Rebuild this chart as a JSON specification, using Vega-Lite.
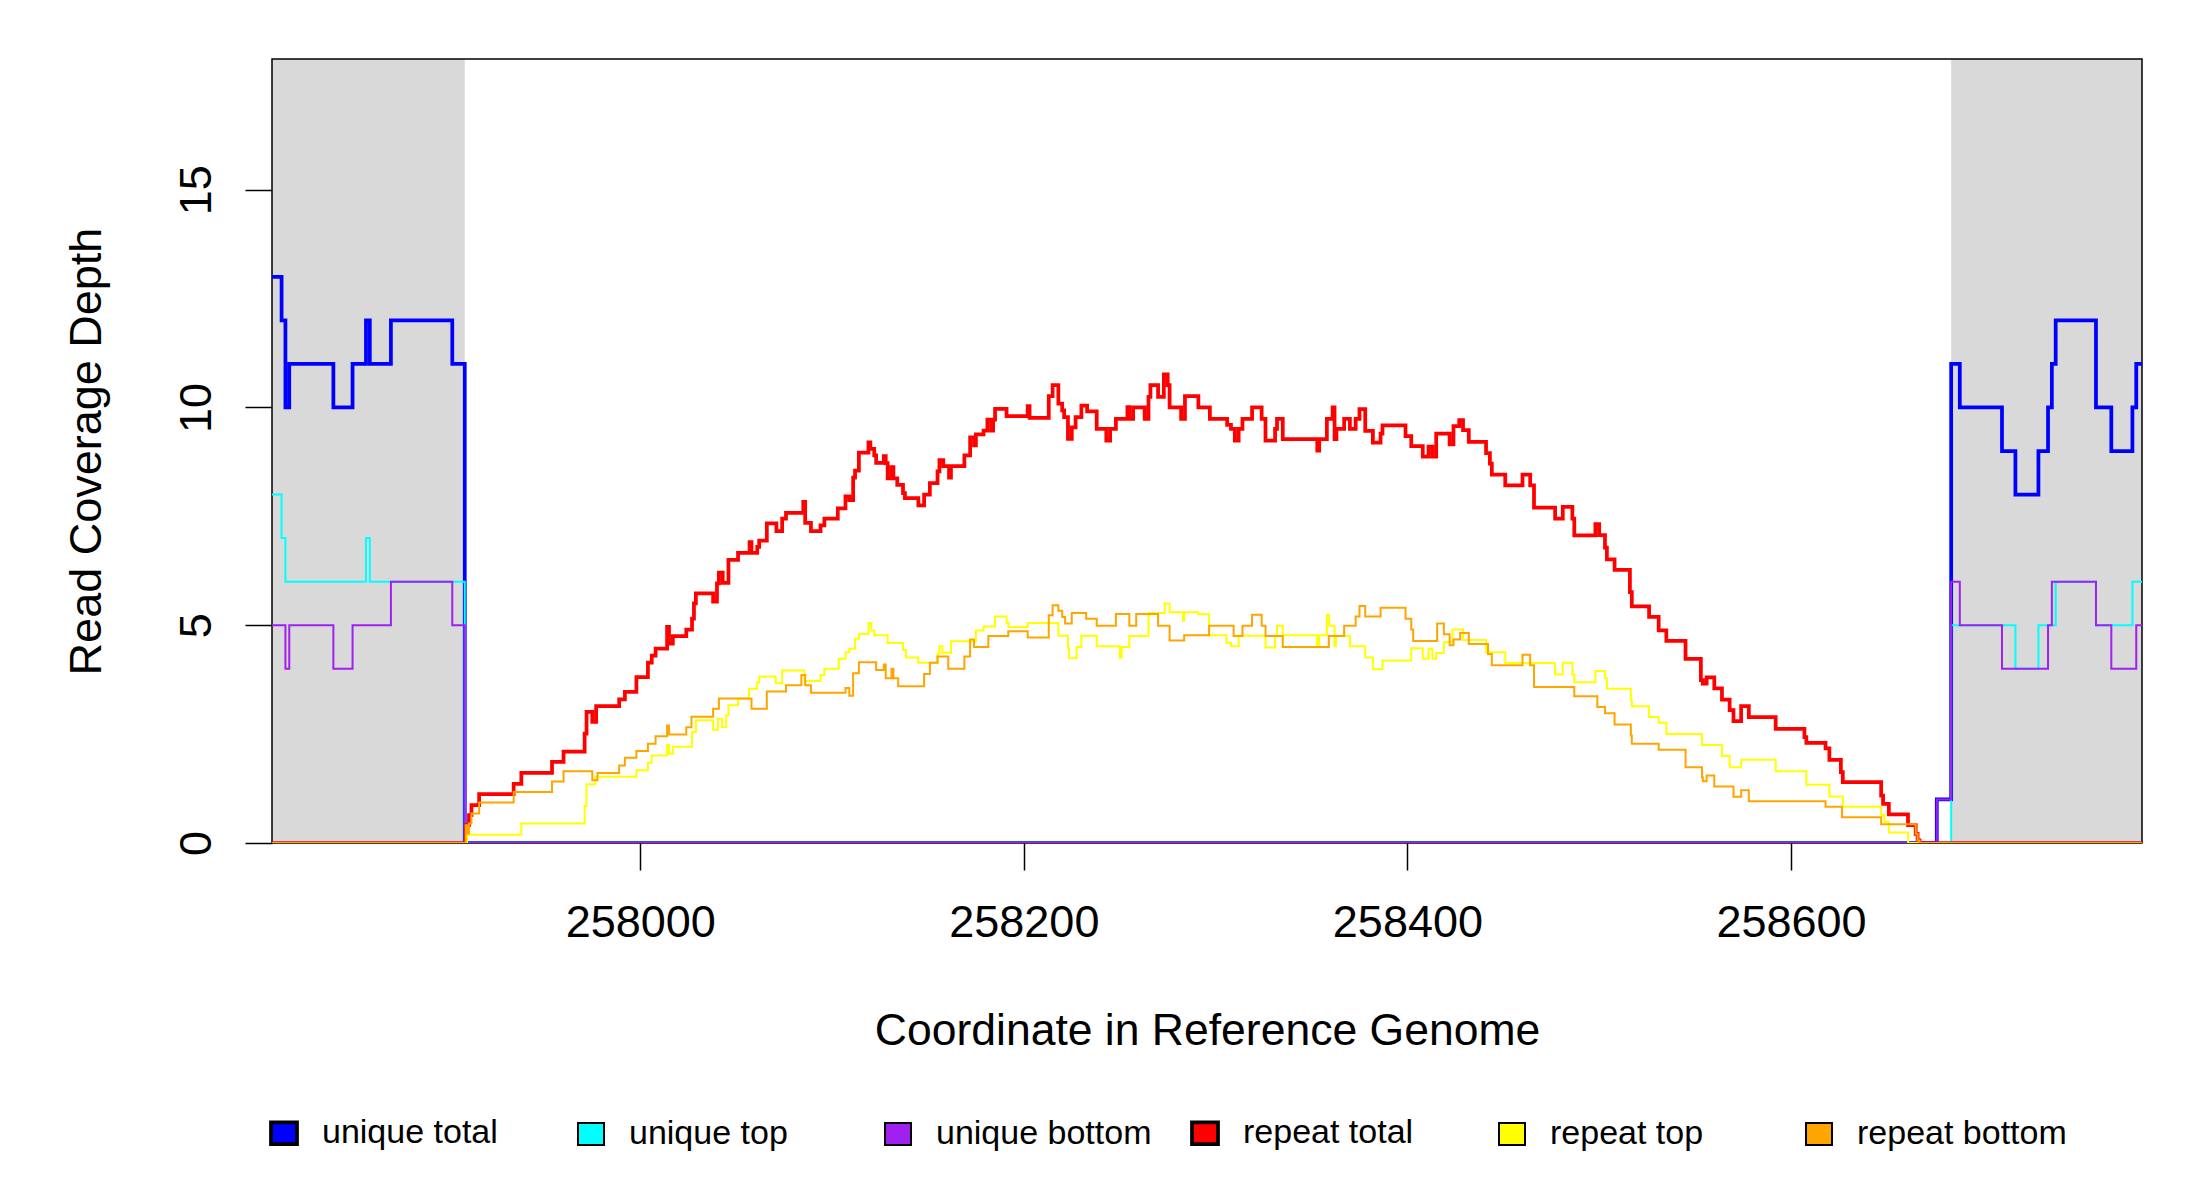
{
"$schema": "https://vega.github.io/schema/vega-lite/v6.json",
"width": 1870,
"height": 784,
"autosize": {"type": "none"},
"padding": {"left": 272, "top": 59, "right": 58, "bottom": 357},
"background": "white",
"config": {"view": {"stroke": null}, "font": "Liberation Sans"},
"datasets": {
"flank": [{"pos": 257808, "pos2": 257908.5, "depth": 0, "depth2": 18}, {"pos": 258683.5, "pos2": 258783, "depth": 0, "depth2": 18}],
"frame": [{"pos": 257808, "pos2": 258783, "depth": 0, "depth2": 18}],
"keys": [{"key": "unique total", "pos": 257808, "depth": 0}, {"key": "unique top", "pos": 257808, "depth": 0}, {"key": "unique bottom", "pos": 257808, "depth": 0}, {"key": "repeat total", "pos": 257808, "depth": 0}, {"key": "repeat top", "pos": 257808, "depth": 0}, {"key": "repeat bottom", "pos": 257808, "depth": 0}],
"cov": [
{"series":"unique total","pos":257808,"depth":13},{"series":"unique total","pos":257813,"depth":12},{"series":"unique total","pos":257815,"depth":10},{"series":"unique total","pos":257817,"depth":11},{"series":"unique total","pos":257840,"depth":10},{"series":"unique total","pos":257850,"depth":11},{"series":"unique total","pos":257857,"depth":12},{"series":"unique total","pos":257859,"depth":11},{"series":"unique total","pos":257870,"depth":12},{"series":"unique total","pos":257902,"depth":11},{"series":"unique total","pos":257908.5,"depth":0},{"series":"unique total","pos":258676,"depth":1},{"series":"unique total","pos":258683.5,"depth":11},{"series":"unique total","pos":258688,"depth":10},{"series":"unique total","pos":258710,"depth":9},{"series":"unique total","pos":258717,"depth":8},{"series":"unique total","pos":258729,"depth":9},{"series":"unique total","pos":258734,"depth":10},{"series":"unique total","pos":258736,"depth":11},{"series":"unique total","pos":258738,"depth":12},{"series":"unique total","pos":258759,"depth":10},{"series":"unique total","pos":258767,"depth":9},{"series":"unique total","pos":258778,"depth":10},{"series":"unique total","pos":258780,"depth":11},{"series":"unique total","pos":258783,"depth":11},
{"series":"unique top","pos":257808,"depth":8},{"series":"unique top","pos":257813,"depth":7},{"series":"unique top","pos":257815,"depth":6},{"series":"unique top","pos":257857,"depth":7},{"series":"unique top","pos":257859,"depth":6},{"series":"unique top","pos":257908.5,"depth":0},{"series":"unique top","pos":258683.5,"depth":5},{"series":"unique top","pos":258717,"depth":4},{"series":"unique top","pos":258729,"depth":5},{"series":"unique top","pos":258738,"depth":6},{"series":"unique top","pos":258759,"depth":5},{"series":"unique top","pos":258778,"depth":6},{"series":"unique top","pos":258783,"depth":6},
{"series":"unique bottom","pos":257808,"depth":5},{"series":"unique bottom","pos":257815,"depth":4},{"series":"unique bottom","pos":257817,"depth":5},{"series":"unique bottom","pos":257840,"depth":4},{"series":"unique bottom","pos":257850,"depth":5},{"series":"unique bottom","pos":257870,"depth":6},{"series":"unique bottom","pos":257902,"depth":5},{"series":"unique bottom","pos":257908.5,"depth":0},{"series":"unique bottom","pos":258676,"depth":1},{"series":"unique bottom","pos":258683.5,"depth":6},{"series":"unique bottom","pos":258688,"depth":5},{"series":"unique bottom","pos":258710,"depth":4},{"series":"unique bottom","pos":258734,"depth":5},{"series":"unique bottom","pos":258736,"depth":6},{"series":"unique bottom","pos":258759,"depth":5},{"series":"unique bottom","pos":258767,"depth":4},{"series":"unique bottom","pos":258780,"depth":5},{"series":"unique bottom","pos":258783,"depth":5},
{"series":"repeat total","pos":257808,"depth":0},{"series":"repeat total","pos":257909,"depth":0.41},{"series":"repeat total","pos":257910.7,"depth":0.64},{"series":"repeat total","pos":257912,"depth":0.87},{"series":"repeat total","pos":257916,"depth":1.12},{"series":"repeat total","pos":257934,"depth":1.36},{"series":"repeat total","pos":257938,"depth":1.61},{"series":"repeat total","pos":257954,"depth":1.86},{"series":"repeat total","pos":257960,"depth":2.1},{"series":"repeat total","pos":257971,"depth":2.51},{"series":"repeat total","pos":257972,"depth":3.01},{"series":"repeat total","pos":257975,"depth":2.78},{"series":"repeat total","pos":257977,"depth":3.14},{"series":"repeat total","pos":257989,"depth":3.3},{"series":"repeat total","pos":257992,"depth":3.47},{"series":"repeat total","pos":257998,"depth":3.81},{"series":"repeat total","pos":258004,"depth":4.14},{"series":"repeat total","pos":258006,"depth":4.3},{"series":"repeat total","pos":258008,"depth":4.46},{"series":"repeat total","pos":258014,"depth":4.96},{"series":"repeat total","pos":258015,"depth":4.58},{"series":"repeat total","pos":258017,"depth":4.75},{"series":"repeat total","pos":258024,"depth":4.9},{"series":"repeat total","pos":258027,"depth":5.15},{"series":"repeat total","pos":258028,"depth":5.5},{"series":"repeat total","pos":258029,"depth":5.73},{"series":"repeat total","pos":258038,"depth":5.54},{"series":"repeat total","pos":258040,"depth":5.96},{"series":"repeat total","pos":258041,"depth":6.21},{"series":"repeat total","pos":258043,"depth":5.97},{"series":"repeat total","pos":258046,"depth":6.5},{"series":"repeat total","pos":258051,"depth":6.66},{"series":"repeat total","pos":258057,"depth":6.91},{"series":"repeat total","pos":258058,"depth":6.66},{"series":"repeat total","pos":258061,"depth":6.8},{"series":"repeat total","pos":258062,"depth":6.94},{"series":"repeat total","pos":258066,"depth":7.34},{"series":"repeat total","pos":258071,"depth":7.16},{"series":"repeat total","pos":258074,"depth":7.45},{"series":"repeat total","pos":258076,"depth":7.58},{"series":"repeat total","pos":258085,"depth":7.83},{"series":"repeat total","pos":258086,"depth":7.35},{"series":"repeat total","pos":258089,"depth":7.16},{"series":"repeat total","pos":258094,"depth":7.29},{"series":"repeat total","pos":258096,"depth":7.45},{"series":"repeat total","pos":258103,"depth":7.68},{"series":"repeat total","pos":258107,"depth":7.96},{"series":"repeat total","pos":258109,"depth":7.87},{"series":"repeat total","pos":258111,"depth":8.39},{"series":"repeat total","pos":258112,"depth":8.55},{"series":"repeat total","pos":258114,"depth":8.96},{"series":"repeat total","pos":258119,"depth":9.2},{"series":"repeat total","pos":258120,"depth":9.05},{"series":"repeat total","pos":258122,"depth":8.9},{"series":"repeat total","pos":258123,"depth":8.73},{"series":"repeat total","pos":258127,"depth":8.88},{"series":"repeat total","pos":258128,"depth":8.72},{"series":"repeat total","pos":258129,"depth":8.37},{"series":"repeat total","pos":258131,"depth":8.63},{"series":"repeat total","pos":258132,"depth":8.37},{"series":"repeat total","pos":258134,"depth":8.22},{"series":"repeat total","pos":258137,"depth":8.03},{"series":"repeat total","pos":258138,"depth":7.92},{"series":"repeat total","pos":258145,"depth":7.75},{"series":"repeat total","pos":258148,"depth":8.0},{"series":"repeat total","pos":258151,"depth":8.26},{"series":"repeat total","pos":258155,"depth":8.53},{"series":"repeat total","pos":258156,"depth":8.79},{"series":"repeat total","pos":258158,"depth":8.65},{"series":"repeat total","pos":258161,"depth":8.39},{"series":"repeat total","pos":258162,"depth":8.65},{"series":"repeat total","pos":258169,"depth":8.9},{"series":"repeat total","pos":258172,"depth":9.31},{"series":"repeat total","pos":258174,"depth":9.13},{"series":"repeat total","pos":258175,"depth":9.38},{"series":"repeat total","pos":258179,"depth":9.47},{"series":"repeat total","pos":258181,"depth":9.72},{"series":"repeat total","pos":258183,"depth":9.47},{"series":"repeat total","pos":258184,"depth":9.72},{"series":"repeat total","pos":258185,"depth":9.97},{"series":"repeat total","pos":258191,"depth":9.8},{"series":"repeat total","pos":258202,"depth":10.03},{"series":"repeat total","pos":258203,"depth":9.76},{"series":"repeat total","pos":258213,"depth":10.26},{"series":"repeat total","pos":258215,"depth":10.51},{"series":"repeat total","pos":258218,"depth":10.09},{"series":"repeat total","pos":258220,"depth":9.93},{"series":"repeat total","pos":258221,"depth":9.78},{"series":"repeat total","pos":258223,"depth":9.28},{"series":"repeat total","pos":258225,"depth":9.54},{"series":"repeat total","pos":258227,"depth":9.78},{"series":"repeat total","pos":258230,"depth":10.04},{"series":"repeat total","pos":258233,"depth":9.91},{"series":"repeat total","pos":258238,"depth":9.51},{"series":"repeat total","pos":258243,"depth":9.24},{"series":"repeat total","pos":258245,"depth":9.51},{"series":"repeat total","pos":258248,"depth":9.74},{"series":"repeat total","pos":258254,"depth":10.01},{"series":"repeat total","pos":258255,"depth":9.74},{"series":"repeat total","pos":258257,"depth":10.0},{"series":"repeat total","pos":258263,"depth":9.74},{"series":"repeat total","pos":258265,"depth":10.24},{"series":"repeat total","pos":258266,"depth":10.51},{"series":"repeat total","pos":258270,"depth":10.24},{"series":"repeat total","pos":258273,"depth":10.76},{"series":"repeat total","pos":258275,"depth":10.51},{"series":"repeat total","pos":258276,"depth":10.0},{"series":"repeat total","pos":258282,"depth":9.74},{"series":"repeat total","pos":258284,"depth":10.26},{"series":"repeat total","pos":258291,"depth":10.0},{"series":"repeat total","pos":258297,"depth":9.74},{"series":"repeat total","pos":258306,"depth":9.6},{"series":"repeat total","pos":258308,"depth":9.51},{"series":"repeat total","pos":258310,"depth":9.24},{"series":"repeat total","pos":258312,"depth":9.51},{"series":"repeat total","pos":258314,"depth":9.74},{"series":"repeat total","pos":258319,"depth":10.0},{"series":"repeat total","pos":258324,"depth":9.74},{"series":"repeat total","pos":258326,"depth":9.24},{"series":"repeat total","pos":258331,"depth":9.51},{"series":"repeat total","pos":258332,"depth":9.74},{"series":"repeat total","pos":258335,"depth":9.27},{"series":"repeat total","pos":258353,"depth":9.01},{"series":"repeat total","pos":258354,"depth":9.27},{"series":"repeat total","pos":258358,"depth":9.74},{"series":"repeat total","pos":258361,"depth":10.0},{"series":"repeat total","pos":258362,"depth":9.27},{"series":"repeat total","pos":258363,"depth":9.51},{"series":"repeat total","pos":258367,"depth":9.74},{"series":"repeat total","pos":258370,"depth":9.51},{"series":"repeat total","pos":258373,"depth":9.74},{"series":"repeat total","pos":258375,"depth":9.96},{"series":"repeat total","pos":258378,"depth":9.46},{"series":"repeat total","pos":258382,"depth":9.19},{"series":"repeat total","pos":258386,"depth":9.4},{"series":"repeat total","pos":258387,"depth":9.59},{"series":"repeat total","pos":258399,"depth":9.34},{"series":"repeat total","pos":258402,"depth":9.11},{"series":"repeat total","pos":258408,"depth":8.87},{"series":"repeat total","pos":258411,"depth":9.1},{"series":"repeat total","pos":258413,"depth":8.87},{"series":"repeat total","pos":258415,"depth":9.4},{"series":"repeat total","pos":258422,"depth":9.15},{"series":"repeat total","pos":258424,"depth":9.57},{"series":"repeat total","pos":258427,"depth":9.71},{"series":"repeat total","pos":258429,"depth":9.48},{"series":"repeat total","pos":258432,"depth":9.21},{"series":"repeat total","pos":258441,"depth":8.95},{"series":"repeat total","pos":258443,"depth":8.71},{"series":"repeat total","pos":258444,"depth":8.46},{"series":"repeat total","pos":258451,"depth":8.21},{"series":"repeat total","pos":258460,"depth":8.46},{"series":"repeat total","pos":258464,"depth":8.21},{"series":"repeat total","pos":258466,"depth":7.7},{"series":"repeat total","pos":258477,"depth":7.45},{"series":"repeat total","pos":258481,"depth":7.72},{"series":"repeat total","pos":258486,"depth":7.45},{"series":"repeat total","pos":258487,"depth":7.06},{"series":"repeat total","pos":258498,"depth":7.32},{"series":"repeat total","pos":258500,"depth":7.07},{"series":"repeat total","pos":258503,"depth":6.78},{"series":"repeat total","pos":258504,"depth":6.51},{"series":"repeat total","pos":258508,"depth":6.27},{"series":"repeat total","pos":258516,"depth":5.76},{"series":"repeat total","pos":258517,"depth":5.43},{"series":"repeat total","pos":258526,"depth":5.19},{"series":"repeat total","pos":258531,"depth":4.88},{"series":"repeat total","pos":258535,"depth":4.64},{"series":"repeat total","pos":258545,"depth":4.23},{"series":"repeat total","pos":258553,"depth":3.74},{"series":"repeat total","pos":258554,"depth":3.66},{"series":"repeat total","pos":258556,"depth":3.8},{"series":"repeat total","pos":258560,"depth":3.55},{"series":"repeat total","pos":258564,"depth":3.29},{"series":"repeat total","pos":258568,"depth":3.05},{"series":"repeat total","pos":258570,"depth":2.8},{"series":"repeat total","pos":258574,"depth":3.14},{"series":"repeat total","pos":258578,"depth":2.89},{"series":"repeat total","pos":258592,"depth":2.62},{"series":"repeat total","pos":258607,"depth":2.43},{"series":"repeat total","pos":258608,"depth":2.3},{"series":"repeat total","pos":258618,"depth":2.17},{"series":"repeat total","pos":258620,"depth":1.91},{"series":"repeat total","pos":258626,"depth":1.63},{"series":"repeat total","pos":258627,"depth":1.4},{"series":"repeat total","pos":258647,"depth":1.09},{"series":"repeat total","pos":258648,"depth":0.9},{"series":"repeat total","pos":258651,"depth":0.66},{"series":"repeat total","pos":258661,"depth":0.41},{"series":"repeat total","pos":258665,"depth":0.21},{"series":"repeat total","pos":258666,"depth":0.06},{"series":"repeat total","pos":258667,"depth":0},{"series":"repeat total","pos":258783,"depth":0},
{"series":"repeat top","pos":257808,"depth":0},{"series":"repeat top","pos":257909.7,"depth":0.19},{"series":"repeat top","pos":257938,"depth":0.45},{"series":"repeat top","pos":257971,"depth":0.85},{"series":"repeat top","pos":257972,"depth":1.35},{"series":"repeat top","pos":257976.6,"depth":1.52},{"series":"repeat top","pos":257998,"depth":1.67},{"series":"repeat top","pos":258004,"depth":1.84},{"series":"repeat top","pos":258006,"depth":2.01},{"series":"repeat top","pos":258014,"depth":2.25},{"series":"repeat top","pos":258015,"depth":2.05},{"series":"repeat top","pos":258017,"depth":2.21},{"series":"repeat top","pos":258027,"depth":2.55},{"series":"repeat top","pos":258029,"depth":2.82},{"series":"repeat top","pos":258038,"depth":2.6},{"series":"repeat top","pos":258040.5,"depth":2.85},{"series":"repeat top","pos":258042.7,"depth":2.66},{"series":"repeat top","pos":258044.8,"depth":2.93},{"series":"repeat top","pos":258046,"depth":3.16},{"series":"repeat top","pos":258051,"depth":3.31},{"series":"repeat top","pos":258056.7,"depth":3.54},{"series":"repeat top","pos":258061,"depth":3.69},{"series":"repeat top","pos":258062,"depth":3.82},{"series":"repeat top","pos":258070.6,"depth":3.67},{"series":"repeat top","pos":258074,"depth":3.96},{"series":"repeat top","pos":258085.6,"depth":3.72},{"series":"repeat top","pos":258094,"depth":3.86},{"series":"repeat top","pos":258096,"depth":4.0},{"series":"repeat top","pos":258103.5,"depth":4.23},{"series":"repeat top","pos":258107,"depth":4.38},{"series":"repeat top","pos":258109,"depth":4.46},{"series":"repeat top","pos":258112,"depth":4.69},{"series":"repeat top","pos":258114,"depth":4.8},{"series":"repeat top","pos":258119,"depth":5.05},{"series":"repeat top","pos":258120.5,"depth":4.88},{"series":"repeat top","pos":258122,"depth":4.77},{"series":"repeat top","pos":258129,"depth":4.59},{"series":"repeat top","pos":258137,"depth":4.43},{"series":"repeat top","pos":258138.5,"depth":4.26},{"series":"repeat top","pos":258145,"depth":4.14},{"series":"repeat top","pos":258155,"depth":4.34},{"series":"repeat top","pos":258156,"depth":4.52},{"series":"repeat top","pos":258157.5,"depth":4.37},{"series":"repeat top","pos":258162,"depth":4.63},{"series":"repeat top","pos":258175,"depth":4.88},{"series":"repeat top","pos":258179,"depth":4.97},{"series":"repeat top","pos":258185,"depth":5.2},{"series":"repeat top","pos":258191,"depth":5.05},{"series":"repeat top","pos":258192,"depth":4.96},{"series":"repeat top","pos":258202,"depth":5.05},{"series":"repeat top","pos":258218,"depth":4.76},{"series":"repeat top","pos":258223,"depth":4.47},{"series":"repeat top","pos":258223.5,"depth":4.24},{"series":"repeat top","pos":258227.5,"depth":4.5},{"series":"repeat top","pos":258230,"depth":4.76},{"series":"repeat top","pos":258238,"depth":4.52},{"series":"repeat top","pos":258250,"depth":4.26},{"series":"repeat top","pos":258251,"depth":4.5},{"series":"repeat top","pos":258255,"depth":4.75},{"series":"repeat top","pos":258265,"depth":5.28},{"series":"repeat top","pos":258273.5,"depth":5.5},{"series":"repeat top","pos":258276,"depth":5.3},{"series":"repeat top","pos":258283,"depth":5.1},{"series":"repeat top","pos":258283.6,"depth":5.3},{"series":"repeat top","pos":258291,"depth":5.25},{"series":"repeat top","pos":258296.6,"depth":4.77},{"series":"repeat top","pos":258305.7,"depth":4.6},{"series":"repeat top","pos":258308,"depth":4.52},{"series":"repeat top","pos":258312,"depth":4.76},{"series":"repeat top","pos":258326,"depth":4.49},{"series":"repeat top","pos":258331,"depth":4.76},{"series":"repeat top","pos":258332,"depth":4.99},{"series":"repeat top","pos":258335,"depth":4.77},{"series":"repeat top","pos":258353,"depth":4.51},{"series":"repeat top","pos":258354,"depth":4.77},{"series":"repeat top","pos":258358,"depth":5.24},{"series":"repeat top","pos":258359.2,"depth":4.99},{"series":"repeat top","pos":258362,"depth":4.52},{"series":"repeat top","pos":258362.7,"depth":4.76},{"series":"repeat top","pos":258370,"depth":4.52},{"series":"repeat top","pos":258378,"depth":4.26},{"series":"repeat top","pos":258382,"depth":3.99},{"series":"repeat top","pos":258387,"depth":4.19},{"series":"repeat top","pos":258402,"depth":4.47},{"series":"repeat top","pos":258408,"depth":4.23},{"series":"repeat top","pos":258411,"depth":4.46},{"series":"repeat top","pos":258413,"depth":4.23},{"series":"repeat top","pos":258415,"depth":4.36},{"series":"repeat top","pos":258419,"depth":4.61},{"series":"repeat top","pos":258423.5,"depth":4.9},{"series":"repeat top","pos":258429,"depth":4.66},{"series":"repeat top","pos":258441,"depth":4.38},{"series":"repeat top","pos":258451,"depth":4.13},{"series":"repeat top","pos":258477,"depth":3.87},{"series":"repeat top","pos":258481,"depth":4.14},{"series":"repeat top","pos":258486,"depth":3.87},{"series":"repeat top","pos":258487,"depth":3.69},{"series":"repeat top","pos":258498,"depth":3.95},{"series":"repeat top","pos":258503,"depth":3.78},{"series":"repeat top","pos":258504,"depth":3.54},{"series":"repeat top","pos":258516.5,"depth":3.28},{"series":"repeat top","pos":258517,"depth":3.14},{"series":"repeat top","pos":258526,"depth":2.89},{"series":"repeat top","pos":258531,"depth":2.76},{"series":"repeat top","pos":258535,"depth":2.5},{"series":"repeat top","pos":258553.6,"depth":2.25},{"series":"repeat top","pos":258564,"depth":2.0},{"series":"repeat top","pos":258568,"depth":1.74},{"series":"repeat top","pos":258574,"depth":1.91},{"series":"repeat top","pos":258592,"depth":1.65},{"series":"repeat top","pos":258608,"depth":1.34},{"series":"repeat top","pos":258620,"depth":1.07},{"series":"repeat top","pos":258627,"depth":0.83},{"series":"repeat top","pos":258647,"depth":0.64},{"series":"repeat top","pos":258648.6,"depth":0.49},{"series":"repeat top","pos":258651,"depth":0.24},{"series":"repeat top","pos":258661,"depth":0},{"series":"repeat top","pos":258783,"depth":0},
{"series":"repeat bottom","pos":257808,"depth":0},{"series":"repeat bottom","pos":257909,"depth":0.41},{"series":"repeat bottom","pos":257909.7,"depth":0.22},{"series":"repeat bottom","pos":257910.7,"depth":0.45},{"series":"repeat bottom","pos":257912,"depth":0.68},{"series":"repeat bottom","pos":257916,"depth":0.93},{"series":"repeat bottom","pos":257934,"depth":1.17},{"series":"repeat bottom","pos":257954,"depth":1.41},{"series":"repeat bottom","pos":257960,"depth":1.65},{"series":"repeat bottom","pos":257975,"depth":1.44},{"series":"repeat bottom","pos":257977.7,"depth":1.61},{"series":"repeat bottom","pos":257989,"depth":1.78},{"series":"repeat bottom","pos":257992,"depth":1.96},{"series":"repeat bottom","pos":257998,"depth":2.11},{"series":"repeat bottom","pos":258004,"depth":2.28},{"series":"repeat bottom","pos":258008,"depth":2.45},{"series":"repeat bottom","pos":258014,"depth":2.7},{"series":"repeat bottom","pos":258015,"depth":2.49},{"series":"repeat bottom","pos":258024,"depth":2.66},{"series":"repeat bottom","pos":258026.7,"depth":2.9},{"series":"repeat bottom","pos":258038,"depth":3.08},{"series":"repeat bottom","pos":258041,"depth":3.32},{"series":"repeat bottom","pos":258058,"depth":3.08},{"series":"repeat bottom","pos":258066,"depth":3.48},{"series":"repeat bottom","pos":258076,"depth":3.62},{"series":"repeat bottom","pos":258084,"depth":3.86},{"series":"repeat bottom","pos":258086,"depth":3.62},{"series":"repeat bottom","pos":258089,"depth":3.45},{"series":"repeat bottom","pos":258107,"depth":3.56},{"series":"repeat bottom","pos":258109,"depth":3.38},{"series":"repeat bottom","pos":258111,"depth":3.9},{"series":"repeat bottom","pos":258114,"depth":4.15},{"series":"repeat bottom","pos":258123,"depth":3.97},{"series":"repeat bottom","pos":258127,"depth":4.1},{"series":"repeat bottom","pos":258128,"depth":3.78},{"series":"repeat bottom","pos":258131,"depth":4.0},{"series":"repeat bottom","pos":258132,"depth":3.78},{"series":"repeat bottom","pos":258134.5,"depth":3.6},{"series":"repeat bottom","pos":258148,"depth":3.88},{"series":"repeat bottom","pos":258151,"depth":4.14},{"series":"repeat bottom","pos":258155,"depth":4.28},{"series":"repeat bottom","pos":258160.6,"depth":4.0},{"series":"repeat bottom","pos":258169,"depth":4.28},{"series":"repeat bottom","pos":258172,"depth":4.67},{"series":"repeat bottom","pos":258174,"depth":4.5},{"series":"repeat bottom","pos":258181.5,"depth":4.75},{"series":"repeat bottom","pos":258191.9,"depth":4.86},{"series":"repeat bottom","pos":258202,"depth":4.72},{"series":"repeat bottom","pos":258213,"depth":5.23},{"series":"repeat bottom","pos":258215,"depth":5.46},{"series":"repeat bottom","pos":258218,"depth":5.33},{"series":"repeat bottom","pos":258220,"depth":5.19},{"series":"repeat bottom","pos":258221.5,"depth":5.04},{"series":"repeat bottom","pos":258225,"depth":5.28},{"series":"repeat bottom","pos":258232.5,"depth":5.15},{"series":"repeat bottom","pos":258238,"depth":4.99},{"series":"repeat bottom","pos":258248,"depth":5.26},{"series":"repeat bottom","pos":258255,"depth":4.99},{"series":"repeat bottom","pos":258258.6,"depth":5.26},{"series":"repeat bottom","pos":258270,"depth":4.99},{"series":"repeat bottom","pos":258276,"depth":4.65},{"series":"repeat bottom","pos":258283.6,"depth":4.77},{"series":"repeat bottom","pos":258296.6,"depth":4.99},{"series":"repeat bottom","pos":258309.4,"depth":4.75},{"series":"repeat bottom","pos":258314,"depth":4.99},{"series":"repeat bottom","pos":258319,"depth":5.24},{"series":"repeat bottom","pos":258324,"depth":4.99},{"series":"repeat bottom","pos":258326,"depth":4.75},{"series":"repeat bottom","pos":258335,"depth":4.5},{"series":"repeat bottom","pos":258359,"depth":4.75},{"series":"repeat bottom","pos":258367,"depth":4.99},{"series":"repeat bottom","pos":258373,"depth":5.2},{"series":"repeat bottom","pos":258375,"depth":5.44},{"series":"repeat bottom","pos":258378,"depth":5.2},{"series":"repeat bottom","pos":258386,"depth":5.4},{"series":"repeat bottom","pos":258399,"depth":5.15},{"series":"repeat bottom","pos":258402,"depth":4.9},{"series":"repeat bottom","pos":258403,"depth":4.64},{"series":"repeat bottom","pos":258415.5,"depth":5.04},{"series":"repeat bottom","pos":258419,"depth":4.79},{"series":"repeat bottom","pos":258422,"depth":4.54},{"series":"repeat bottom","pos":258424,"depth":4.67},{"series":"repeat bottom","pos":258427.5,"depth":4.82},{"series":"repeat bottom","pos":258432,"depth":4.57},{"series":"repeat bottom","pos":258442,"depth":4.34},{"series":"repeat bottom","pos":258444,"depth":4.08},{"series":"repeat bottom","pos":258460,"depth":4.32},{"series":"repeat bottom","pos":258464,"depth":4.08},{"series":"repeat bottom","pos":258466,"depth":3.58},{"series":"repeat bottom","pos":258487,"depth":3.37},{"series":"repeat bottom","pos":258499,"depth":3.12},{"series":"repeat bottom","pos":258503,"depth":2.98},{"series":"repeat bottom","pos":258508,"depth":2.72},{"series":"repeat bottom","pos":258516.5,"depth":2.47},{"series":"repeat bottom","pos":258517,"depth":2.28},{"series":"repeat bottom","pos":258531,"depth":2.14},{"series":"repeat bottom","pos":258545,"depth":1.74},{"series":"repeat bottom","pos":258553.6,"depth":1.51},{"series":"repeat bottom","pos":258554,"depth":1.42},{"series":"repeat bottom","pos":258556,"depth":1.55},{"series":"repeat bottom","pos":258560,"depth":1.3},{"series":"repeat bottom","pos":258570,"depth":1.06},{"series":"repeat bottom","pos":258574,"depth":1.21},{"series":"repeat bottom","pos":258578,"depth":0.96},{"series":"repeat bottom","pos":258618,"depth":0.83},{"series":"repeat bottom","pos":258626.6,"depth":0.59},{"series":"repeat bottom","pos":258647,"depth":0.43},{"series":"repeat bottom","pos":258665,"depth":0.21},{"series":"repeat bottom","pos":258666,"depth":0.06},{"series":"repeat bottom","pos":258667,"depth":0},{"series":"repeat bottom","pos":258783,"depth":0}
]
},
"encoding": {
"x": {"field": "pos", "type": "quantitative",
 "scale": {"domain": [257808, 258783], "nice": false, "zero": false},
 "axis": {"title": "Coordinate in Reference Genome", "values": [258000, 258200, 258400, 258600], "format": "d", "grid": false, "domain": false, "tickSize": 27, "tickWidth": 1.5, "tickColor": "black", "labelFont": "Liberation Sans", "labelFontSize": 45, "labelColor": "black", "labelPadding": 66, "labelBaseline": "alphabetic", "labelFlush": false, "labelOverlap": false, "titleFont": "Liberation Sans", "titleFontSize": 44.5, "titleFontWeight": "normal", "titleColor": "black", "titleBaseline": "alphabetic", "titleY": 201}},
"y": {"field": "depth", "type": "quantitative",
 "scale": {"domain": [0, 18], "nice": false, "zero": true},
 "axis": {"title": "Read Coverage Depth", "values": [0, 5, 10, 15], "grid": false, "domain": false, "tickSize": 27, "tickWidth": 1.5, "tickColor": "black", "labelFont": "Liberation Sans", "labelFontSize": 45, "labelColor": "black", "labelAngle": -90, "labelAlign": "center", "labelBaseline": "alphabetic", "labelPadding": 35, "labelOverlap": false, "titleFont": "Liberation Sans", "titleFontSize": 45, "titleFontWeight": "normal", "titleColor": "black", "titleAngle": -90, "titleAlign": "center", "titleBaseline": "alphabetic", "titleX": -172, "titleY": 392}}
},
"layer": [
{"data": {"name": "flank"}, "mark": {"type": "rect", "fill": "#D9D9D9", "stroke": null},
 "encoding": {"x2": {"field": "pos2"}, "y2": {"field": "depth2"}}},
{"data": {"name": "frame"}, "mark": {"type": "rect", "fill": null, "fillOpacity": 0, "stroke": "black", "strokeWidth": 1.5},
 "encoding": {"x2": {"field": "pos2"}, "y2": {"field": "depth2"}}},
{"data": {"name": "keys"}, "mark": {"type": "point", "shape": "square", "filled": true, "strokeWidth": 2, "size": 0},
 "encoding": {
  "fill": {"field": "key", "type": "nominal",
   "scale": {"domain": ["unique total", "unique top", "unique bottom", "repeat total", "repeat top", "repeat bottom"], "range": ["#0000FF", "#00FFFF", "#A020F0", "#FF0000", "#FFFF00", "#FFA500"]},
   "legend": {"title": null, "orient": "none", "legendX": -5, "legendY": 1057, "direction": "horizontal", "columns": 6, "gridAlign": "all", "columnPadding": 32, "padding": 0, "symbolType": "M-1,-0.846H1V0.846H-1Z", "symbolSize": 676, "symbolStrokeWidth": 2, "symbolOpacity": 1, "labelFont": "Liberation Sans", "labelFontSize": 34, "labelColor": "black", "labelOffset": 21, "labelLimit": 0}},
  "stroke": {"field": "key", "type": "nominal",
   "scale": {"domain": ["unique total", "unique top", "unique bottom", "repeat total", "repeat top", "repeat bottom"], "range": ["#000000", "#000000", "#000000", "#000000", "#000000", "#000000"]},
   "legend": {"title": null, "orient": "none", "legendX": -5, "legendY": 1057, "direction": "horizontal", "columns": 6, "gridAlign": "all", "columnPadding": 32, "padding": 0, "symbolType": "M-1,-0.846H1V0.846H-1Z", "symbolSize": 676, "symbolStrokeWidth": 2, "symbolOpacity": 1, "labelFont": "Liberation Sans", "labelFontSize": 34, "labelColor": "black", "labelOffset": 21, "labelLimit": 0}}
 }},
{"data": {"name": "cov"}, "mark": {"type": "line", "interpolate": "step-after", "strokeCap": "butt", "strokeJoin": "miter", "clip": true},
 "encoding": {
  "color": {"field": "series", "type": "nominal",
   "scale": {"domain": ["unique total", "unique top", "unique bottom", "repeat total", "repeat top", "repeat bottom"], "range": ["#0000FF", "#00FFFF", "#A020F0", "#FF0000", "#FFFF00", "#FFA500"]},
   "legend": null},
  "strokeWidth": {"field": "series", "type": "nominal",
   "scale": {"type": "ordinal", "domain": ["unique total", "unique top", "unique bottom", "repeat total", "repeat top", "repeat bottom"], "range": [3.75, 2, 2, 3.75, 2, 2]}, "legend": null}
 }}
]
}
